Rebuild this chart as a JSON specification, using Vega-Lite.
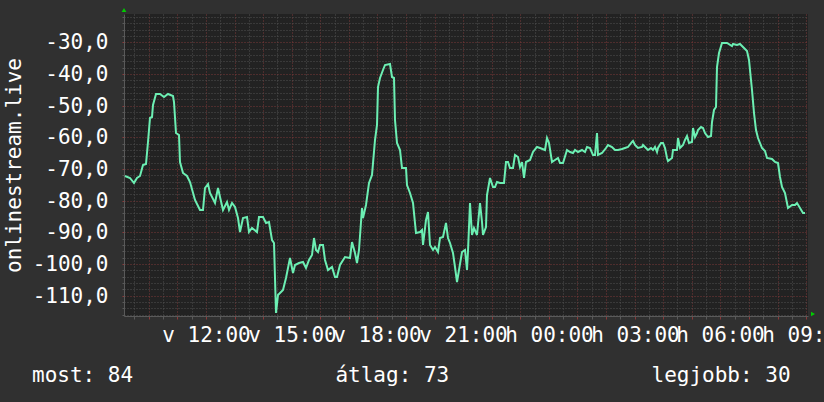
{
  "$schema": "https://vega.github.io/schema/vega-lite/v6.json",
  "width": 684,
  "height": 302,
  "autosize": {"type": "none"},
  "padding": {"left": 124, "top": 14, "right": 16, "bottom": 86},
  "background": "#303030",
  "config": {"view": {"fill": "#222222", "stroke": null}, "font": "DejaVu Sans Mono"},
  "title": {
    "text": "most: 84\u00a0\u00a0\u00a0\u00a0\u00a0\u00a0\u00a0\u00a0\u00a0\u00a0\u00a0\u00a0\u00a0\u00a0\u00a0\u00a0átlag: 73\u00a0\u00a0\u00a0\u00a0\u00a0\u00a0\u00a0\u00a0\u00a0\u00a0\u00a0\u00a0\u00a0\u00a0\u00a0\u00a0legjobb: 30",
    "orient": "bottom",
    "anchor": "start",
    "frame": "group",
    "dx": -92,
    "offset": 20,
    "font": "DejaVu Sans Mono",
    "fontSize": 21,
    "fontWeight": "normal",
    "color": "#ffffff"
  },
  "data": {"values": [
    {"t":550,"v":-72.2},{"t":560,"v":-72.8},{"t":569,"v":-74.4},{"t":575,"v":-72.8},{"t":581,"v":-72.2},
    {"t":588,"v":-68.7},{"t":594,"v":-68.4},{"t":598,"v":-61.5},{"t":602,"v":-53.9},{"t":607,"v":-53.6},
    {"t":609,"v":-49.8},{"t":615,"v":-46.3},{"t":623,"v":-46.3},{"t":632,"v":-47.3},{"t":640,"v":-46.3},
    {"t":651,"v":-47.0},{"t":653,"v":-48.8},{"t":657,"v":-58.6},{"t":663,"v":-59.3},{"t":665,"v":-67.8},
    {"t":672,"v":-71.2},{"t":680,"v":-72.2},{"t":686,"v":-74.1},{"t":697,"v":-79.8},{"t":707,"v":-82.9},
    {"t":714,"v":-82.9},{"t":718,"v":-76.0},{"t":724,"v":-74.7},{"t":728,"v":-77.6},{"t":739,"v":-80.7},
    {"t":745,"v":-76.0},{"t":749,"v":-78.8},{"t":756,"v":-82.9},{"t":764,"v":-80.4},{"t":768,"v":-82.9},
    {"t":775,"v":-80.7},{"t":781,"v":-82.0},{"t":787,"v":-85.4},{"t":791,"v":-89.9},{"t":798,"v":-85.4},
    {"t":806,"v":-85.1},{"t":810,"v":-89.9},{"t":817,"v":-88.6},{"t":827,"v":-89.9},{"t":831,"v":-85.1},
    {"t":840,"v":-85.1},{"t":846,"v":-87.0},{"t":852,"v":-86.7},{"t":859,"v":-92.4},{"t":863,"v":-93.3},
    {"t":867,"v":-115.4},{"t":871,"v":-109.7},{"t":882,"v":-108.2},{"t":888,"v":-104.4},{"t":892,"v":-101.2},
    {"t":896,"v":-98.1},{"t":903,"v":-102.8},{"t":907,"v":-100.3},{"t":915,"v":-99.6},{"t":924,"v":-99.3},
    {"t":930,"v":-101.2},{"t":936,"v":-98.7},{"t":943,"v":-97.1},{"t":947,"v":-91.8},{"t":951,"v":-95.5},
    {"t":955,"v":-96.2},{"t":959,"v":-94.0},{"t":966,"v":-94.0},{"t":970,"v":-98.7},{"t":976,"v":-101.8},
    {"t":985,"v":-100.9},{"t":991,"v":-104.1},{"t":995,"v":-104.1},{"t":1001,"v":-100.3},{"t":1012,"v":-97.7},
    {"t":1022,"v":-98.1},{"t":1027,"v":-93.0},{"t":1033,"v":-96.5},{"t":1037,"v":-99.6},{"t":1041,"v":-95.5},
    {"t":1048,"v":-82.3},{"t":1050,"v":-85.4},{"t":1056,"v":-81.3},{"t":1062,"v":-74.4},{"t":1069,"v":-71.9},
    {"t":1075,"v":-60.8},{"t":1079,"v":-56.1},{"t":1081,"v":-44.1},{"t":1085,"v":-41.3},{"t":1092,"v":-38.7},
    {"t":1096,"v":-37.2},{"t":1106,"v":-36.9},{"t":1111,"v":-41.0},{"t":1115,"v":-41.3},{"t":1117,"v":-54.5},
    {"t":1121,"v":-61.8},{"t":1127,"v":-64.0},{"t":1132,"v":-69.7},{"t":1140,"v":-69.7},{"t":1142,"v":-75.0},
    {"t":1148,"v":-77.6},{"t":1155,"v":-80.7},{"t":1161,"v":-90.2},{"t":1169,"v":-89.9},{"t":1174,"v":-89.2},
    {"t":1176,"v":-94.0},{"t":1182,"v":-86.1},{"t":1186,"v":-83.5},{"t":1190,"v":-94.0},{"t":1197,"v":-95.5},
    {"t":1201,"v":-94.6},{"t":1207,"v":-96.2},{"t":1211,"v":-91.8},{"t":1218,"v":-91.4},{"t":1224,"v":-87.0},
    {"t":1228,"v":-91.8},{"t":1232,"v":-93.3},{"t":1239,"v":-96.5},{"t":1243,"v":-100.9},{"t":1247,"v":-105.6},
    {"t":1251,"v":-101.8},{"t":1258,"v":-96.2},{"t":1264,"v":-95.5},{"t":1268,"v":-101.8},{"t":1270,"v":-95.9},
    {"t":1274,"v":-80.7},{"t":1279,"v":-90.8},{"t":1283,"v":-88.6},{"t":1289,"v":-90.8},{"t":1295,"v":-80.7},
    {"t":1300,"v":-86.7},{"t":1302,"v":-90.8},{"t":1308,"v":-88.3},{"t":1310,"v":-78.2},{"t":1316,"v":-72.8},
    {"t":1323,"v":-75.7},{"t":1327,"v":-75.7},{"t":1331,"v":-74.1},{"t":1337,"v":-74.4},{"t":1346,"v":-74.4},
    {"t":1350,"v":-67.8},{"t":1354,"v":-67.8},{"t":1358,"v":-69.7},{"t":1365,"v":-69.7},{"t":1369,"v":-65.6},
    {"t":1375,"v":-66.2},{"t":1379,"v":-69.3},{"t":1384,"v":-67.8},{"t":1388,"v":-72.8},{"t":1392,"v":-67.8},
    {"t":1400,"v":-67.1},{"t":1407,"v":-64.6},{"t":1415,"v":-63.0},{"t":1421,"v":-63.4},{"t":1432,"v":-64.0},
    {"t":1436,"v":-60.2},{"t":1440,"v":-61.8},{"t":1447,"v":-67.8},{"t":1453,"v":-67.1},{"t":1459,"v":-66.5},
    {"t":1463,"v":-68.1},{"t":1470,"v":-68.1},{"t":1478,"v":-64.0},{"t":1484,"v":-64.6},{"t":1491,"v":-64.9},
    {"t":1495,"v":-64.0},{"t":1501,"v":-64.6},{"t":1510,"v":-64.0},{"t":1516,"v":-64.6},{"t":1520,"v":-63.0},
    {"t":1526,"v":-63.4},{"t":1533,"v":-65.6},{"t":1537,"v":-65.6},{"t":1541,"v":-58.6},{"t":1543,"v":-65.6},
    {"t":1552,"v":-64.9},{"t":1560,"v":-63.4},{"t":1564,"v":-62.4},{"t":1573,"v":-63.0},{"t":1579,"v":-64.0},
    {"t":1585,"v":-64.0},{"t":1594,"v":-63.7},{"t":1600,"v":-63.4},{"t":1606,"v":-63.0},{"t":1615,"v":-61.5},
    {"t":1617,"v":-61.1},{"t":1621,"v":-62.4},{"t":1627,"v":-63.4},{"t":1636,"v":-63.0},{"t":1638,"v":-62.4},
    {"t":1644,"v":-63.4},{"t":1648,"v":-64.0},{"t":1654,"v":-63.4},{"t":1659,"v":-64.0},{"t":1663,"v":-63.0},
    {"t":1667,"v":-64.6},{"t":1669,"v":-63.4},{"t":1676,"v":-61.8},{"t":1680,"v":-61.8},{"t":1684,"v":-63.4},
    {"t":1688,"v":-66.5},{"t":1690,"v":-67.5},{"t":1699,"v":-66.5},{"t":1701,"v":-64.0},{"t":1709,"v":-64.0},
    {"t":1711,"v":-60.2},{"t":1715,"v":-63.4},{"t":1722,"v":-62.4},{"t":1726,"v":-60.8},{"t":1730,"v":-59.6},
    {"t":1734,"v":-61.8},{"t":1741,"v":-61.5},{"t":1743,"v":-57.0},{"t":1747,"v":-59.9},{"t":1751,"v":-58.6},
    {"t":1753,"v":-57.7},{"t":1759,"v":-56.7},{"t":1764,"v":-57.0},{"t":1768,"v":-58.6},{"t":1774,"v":-59.9},
    {"t":1780,"v":-59.6},{"t":1782,"v":-55.2},{"t":1787,"v":-51.4},{"t":1791,"v":-50.4},{"t":1793,"v":-37.8},
    {"t":1797,"v":-33.4},{"t":1804,"v":-30.2},{"t":1814,"v":-30.2},{"t":1825,"v":-31.2},{"t":1827,"v":-30.5},
    {"t":1835,"v":-30.9},{"t":1841,"v":-30.5},{"t":1848,"v":-31.5},{"t":1856,"v":-32.8},{"t":1860,"v":-35.6},
    {"t":1867,"v":-45.1},{"t":1871,"v":-52.3},{"t":1875,"v":-57.7},{"t":1879,"v":-60.2},{"t":1888,"v":-63.4},
    {"t":1894,"v":-64.3},{"t":1898,"v":-66.5},{"t":1909,"v":-66.8},{"t":1915,"v":-67.8},{"t":1921,"v":-68.1},
    {"t":1925,"v":-72.5},{"t":1929,"v":-75.7},{"t":1936,"v":-77.6},{"t":1942,"v":-82.3},{"t":1950,"v":-81.3},
    {"t":1956,"v":-81.3},{"t":1961,"v":-80.7},{"t":1967,"v":-82.3},{"t":1973,"v":-83.9},{"t":1978,"v":-83.9}
  ]},
  "layer": [
    {
      "mark": {"type": "line", "color": "#6cefb3", "strokeWidth": 2, "clip": true},
      "encoding": {
        "x": {
          "field": "t", "type": "quantitative",
          "scale": {"domain": [548, 1984], "nice": false, "zero": false, "round": true},
          "axis": {
            "values": [570,600,630,660,690,720,750,780,810,840,870,900,930,960,990,1020,1050,1080,1110,1140,1170,1200,1230,1260,1290,1320,1350,1380,1410,1440,1470,1500,1530,1560,1590,1620,1650,1680,1710,1740,1770,1800,1830,1860,1890,1920,1950,1980],
            "tickCount": 200,
            "title": null,
            "grid": true,
            "gridColor": {"condition": {"test": "datum.value % 60 == 0", "value": "#7a3838"}, "value": "#505050"},
            "gridDash": [1, 2],
            "gridWidth": 1,
            "domainColor": "#5a5a5a",
            "tickSize": 3,
            "tickColor": {"condition": {"test": "datum.value % 60 == 0", "value": "#8a3a3a"}, "value": "#5a5a5a"},
            "labelExpr": "datum.value % 180 == 0 ? (datum.value < 1440 ? 'v ' : 'h ') + utcFormat(datum.value * 60000, '%H:%M') : ''",
            "labelColor": "#ffffff",
            "labelFont": "DejaVu Sans Mono",
            "labelFontSize": 21,
            "labelPadding": 5,
            "labelOverlap": false,
            "labelBound": false,
            "labelFlush": false
          }
        },
        "y": {
          "field": "v", "type": "quantitative",
          "scale": {"domain": [-116.4, -21.1], "nice": false, "zero": false, "round": true},
          "axis": {
            "values": [-116,-114,-112,-110,-108,-106,-104,-102,-100,-98,-96,-94,-92,-90,-88,-86,-84,-82,-80,-78,-76,-74,-72,-70,-68,-66,-64,-62,-60,-58,-56,-54,-52,-50,-48,-46,-44,-42,-40,-38,-36,-34,-32,-30,-28,-26,-24,-22],
            "tickCount": 200,
            "title": "onlinestream.live",
            "titleFont": "DejaVu Sans Mono",
            "titleFontSize": 21,
            "titleFontWeight": "normal",
            "titleColor": "#ffffff",
            "titlePadding": 8,
            "grid": true,
            "gridColor": {"condition": {"test": "datum.value % 10 == 0", "value": "#7a3838"}, "value": "#505050"},
            "gridDash": [1, 2],
            "gridWidth": 1,
            "domainColor": "#5a5a5a",
            "tickSize": 2,
            "tickColor": {"condition": {"test": "datum.value % 10 == 0", "value": "#8a3a3a"}, "value": "#5a5a5a"},
            "labelExpr": "datum.value % 10 == 0 ? (datum.value < 0 ? '-' : '') + replace(format(abs(datum.value), '.1f'), '.', ',') : ''",
            "labelColor": "#ffffff",
            "labelFont": "DejaVu Sans Mono",
            "labelFontSize": 21,
            "labelPadding": 14,
            "labelOverlap": false,
            "labelBound": false
          }
        }
      }
    },
    {
      "data": {"values": [{}]},
      "mark": {"type": "point", "shape": "triangle-up", "filled": true, "color": "#00cc00", "opacity": 1, "size": 22},
      "encoding": {
        "x": {"datum": 548, "type": "quantitative"},
        "y": {"datum": -19.8, "type": "quantitative"}
      }
    },
    {
      "data": {"values": [{}]},
      "mark": {"type": "point", "shape": "triangle-right", "filled": true, "color": "#00cc00", "opacity": 1, "size": 22},
      "encoding": {
        "x": {"datum": 1994, "type": "quantitative"},
        "y": {"datum": -115.7, "type": "quantitative"}
      }
    }
  ]
}
